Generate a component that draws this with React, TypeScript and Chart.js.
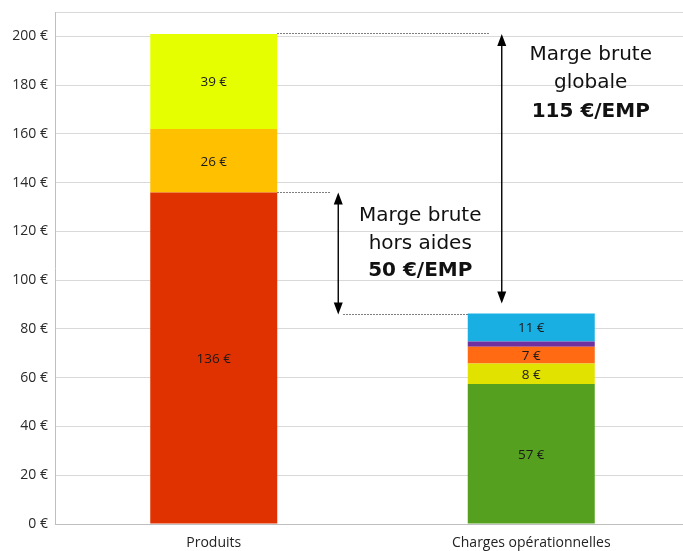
import React, { useEffect, useRef } from "react";
import { Chart, registerables } from "chart.js";

Chart.register(...registerables);

const categories = ["Produits", "Charges opérationnelles"];

const produitsSegments = [136, 26, 39];
const produitsColors = ["#E03200", "#FFC000", "#E6FF00"];

const chargesSegments = [57.4, 8.4, 6.9, 2.2, 11.4];
const chargesColors = ["#55A01E", "#E2E200", "#FF6A13", "#7030A0", "#1AAFE3"];
const chargesLabeled = [true, true, true, false, true];

const yMax = 210;
const yStep = 20;

const totalProduits = produitsSegments.reduce((a, b) => a + b, 0);
const aidesFree = produitsSegments[0];
const totalCharges = chargesSegments.reduce((a, b) => a + b, 0);

const margeGlobale = 115;
const margeHorsAides = 50;

export default function App() {
  const ref = useRef<HTMLCanvasElement | null>(null);

  useEffect(() => {
    document.body.style.margin = "0";
    document.body.style.overflow = "hidden";
    if (!ref.current) return;

    const datasets: any[] = [];
    produitsSegments.forEach((v, i) => {
      datasets.push({
        label: "P" + i,
        data: [v, null],
        backgroundColor: produitsColors[i],
        stack: "s",
        showLabel: true,
      });
    });
    chargesSegments.forEach((v, i) => {
      datasets.push({
        label: "C" + i,
        data: [null, v],
        backgroundColor: chargesColors[i],
        stack: "s",
        showLabel: chargesLabeled[i],
      });
    });

    const labelsPlugin = {
      id: "segLabels",
      afterDatasetsDraw(chart: any) {
        const ctx = chart.ctx;
        ctx.save();
        ctx.font = "13.5px 'Open Sans'";
        ctx.fillStyle = "#1a1a1a";
        ctx.textAlign = "center";
        ctx.textBaseline = "middle";
        chart.data.datasets.forEach((ds: any, di: number) => {
          if (!ds.showLabel) return;
          const meta = chart.getDatasetMeta(di);
          meta.data.forEach((el: any, idx: number) => {
            const v = ds.data[idx];
            if (v == null) return;
            const cy = (el.y + el.base) / 2;
            ctx.fillText(`${Math.round(v)} €`, el.x, cy + 1);
          });
        });
        ctx.restore();
      },
    };

    const annotPlugin = {
      id: "annot",
      afterDraw(chart: any) {
        const ctx = chart.ctx;
        const y = chart.scales.y;
        const bar1 = chart.getDatasetMeta(0).data[0] as any;
        const bar2 = chart.getDatasetMeta(produitsSegments.length).data[1] as any;
        const b1Right = bar1.x + bar1.width / 2;
        const b2Left = bar2.x - bar2.width / 2;
        const yTop = y.getPixelForValue(totalProduits);
        const yAid = y.getPixelForValue(aidesFree);
        const yCh = y.getPixelForValue(totalCharges);
        const leftArrowX = b1Right + 61;
        const rightArrowX = b2Left + 34;

        ctx.save();
        ctx.strokeStyle = "#555";
        ctx.lineWidth = 1;
        ctx.setLineDash([1.5, 1.5]);
        const dline = (x1: number, x2: number, yy: number) => {
          ctx.beginPath();
          ctx.moveTo(x1, Math.round(yy) + 0.5);
          ctx.lineTo(x2, Math.round(yy) + 0.5);
          ctx.stroke();
        };
        dline(b1Right, rightArrowX - 13, yTop - 1);
        dline(b1Right, leftArrowX - 7, yAid);
        dline(leftArrowX + 5, b2Left, yCh);
        ctx.setLineDash([]);

        const arrow = (x: number, y1: number, y2: number) => {
          const hw = 4.5;
          const hh = 12;
          ctx.strokeStyle = "#000";
          ctx.fillStyle = "#000";
          ctx.lineWidth = 1.4;
          ctx.beginPath();
          ctx.moveTo(x, y1 + hh - 1);
          ctx.lineTo(x, y2 - hh + 1);
          ctx.stroke();
          ctx.beginPath();
          ctx.moveTo(x, y1);
          ctx.lineTo(x - hw, y1 + hh);
          ctx.lineTo(x + hw, y1 + hh);
          ctx.closePath();
          ctx.fill();
          ctx.beginPath();
          ctx.moveTo(x, y2);
          ctx.lineTo(x - hw, y2 - hh);
          ctx.lineTo(x + hw, y2 - hh);
          ctx.closePath();
          ctx.fill();
        };
        arrow(rightArrowX, yTop, yCh - 10);
        arrow(leftArrowX, yAid, yCh + 1);

        ctx.fillStyle = "#111";
        ctx.textAlign = "center";
        ctx.textBaseline = "middle";
        const rx = rightArrowX + 89;
        ctx.font = "20px 'DejaVu Sans'";
        ctx.fillText("Marge brute", rx, yTop + 21);
        ctx.fillText("globale", rx, yTop + 49);
        ctx.font = "bold 20px 'DejaVu Sans'";
        ctx.fillText(`${margeGlobale} €/EMP`, rx, yTop + 78);

        const lx = leftArrowX + 82;
        ctx.font = "20px 'DejaVu Sans'";
        ctx.fillText("Marge brute", lx, yAid + 23);
        ctx.fillText("hors aides", lx, yAid + 51);
        ctx.font = "bold 20px 'DejaVu Sans'";
        ctx.fillText(`${margeHorsAides} €/EMP`, lx, yAid + 78);
        ctx.restore();
      },
    };

    const chart = new Chart(ref.current, {
      type: "bar",
      data: { labels: categories, datasets },
      options: {
        animation: false,
        responsive: true,
        maintainAspectRatio: false,
        layout: { padding: { top: 12, right: 5, left: 0, bottom: 0 } },
        plugins: {
          legend: { display: false },
          tooltip: { enabled: false },
        },
        datasets: {
          bar: { categoryPercentage: 1, barPercentage: 0.4, borderWidth: 0 },
        },
        scales: {
          x: {
            stacked: true,
            grid: { display: false, drawTicks: false },
            border: { display: true, color: "#bfbfbf", width: 1 },
            ticks: {
              padding: 11,
              color: "#222",
              font: { family: "'Open Sans'", size: 14 },
            },
            afterFit(scale: any) {
              scale.height = 27;
              scale.paddingLeft = 0;
              scale.paddingRight = 0;
            },
          },
          y: {
            stacked: true,
            min: 0,
            max: yMax,
            grid: { color: "#d9d9d9", lineWidth: 1, drawTicks: false },
            border: { display: true, color: "#bfbfbf", width: 1 },
            ticks: {
              stepSize: yStep,
              padding: 7,
              color: "#2a2a2a",
              font: { family: "'Open Sans'", size: 14 },
              callback: (v: any) => (Number(v) % yStep === 0 ? `${v} €` : ""),
            },
            afterFit(scale: any) {
              scale.width = 55;
              scale.paddingTop = 0;
              scale.paddingBottom = 0;
            },
          },
        },
      } as any,
      plugins: [labelsPlugin, annotPlugin],
    });

    return () => chart.destroy();
  }, []);

  return (
    <div
      style={{
        position: "fixed",
        left: 0,
        top: 0,
        width: 683,
        height: 551,
        overflow: "hidden",
        background: "#fff",
      }}
    >
      <div style={{ width: 695, height: 551, position: "relative" }}>
        <canvas ref={ref} />
      </div>
    </div>
  );
}
